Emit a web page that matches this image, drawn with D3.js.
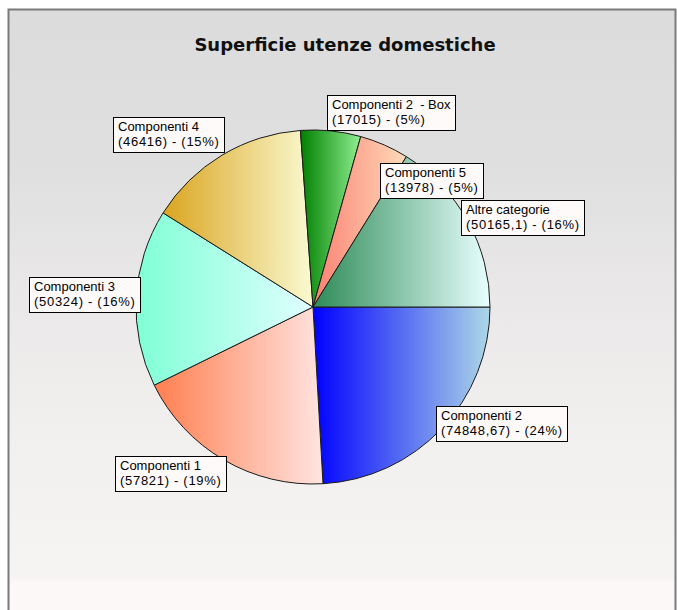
<!DOCTYPE html>
<html>
<head>
<meta charset="utf-8">
<script src="https://cdn.jsdelivr.net/npm/d3@7.9.0/dist/d3.min.js"></script>
<style>
  html, body { margin: 0; padding: 0; background: #fff; }
  svg { display: block; }
</style>
</head>
<body>
<div id="chart"></div>
<script>
// data
const categories = ['Componenti 2', 'Componenti 1', 'Componenti 3', 'Componenti 4',
    'Componenti 2  - Box', 'Componenti 5', 'Altre categorie'];
const values = [74848.67, 57821, 50324, 46416, 17015, 13978, 50165.1];
const valueLabels = ['74848,67', '57821', '50324', '46416', '17015', '13978', '50165,1'];

// gradient colours per slice (left -> right)
const colorsFrom = ['#0000ff', '#ff7f50', '#7fffd4', '#daa520', '#008000', '#fa8072', '#2e8b57'];
const colorsTo = ['#add8e6', '#ffe4e1', '#e0ffff', '#fafad2', '#90ee90', '#ffdab9', '#e8ffff'];

// vertical nudge of each label box
const labelDy = [-2, 17, -4, -24, -22, 32, -5];

const width = 677;
const height = 610;
const cx = 313, cy = 307, radius = 177;

const svg = d3.select('#chart')
    .append('svg')
    .attr('width', width)
    .attr('height', height);

const defs = svg.append('defs');

// background
const bg = defs.append('linearGradient')
    .attr('id', 'bg')
    .attr('x1', 0).attr('y1', 0).attr('x2', 0).attr('y2', 1);
[[0, '#dcdcdc'], [0.25, '#dfdfdf'], [0.45, '#e9e7e7'], [0.7, '#f2efef'],
 [0.93, '#f6f3f3'], [0.94, '#fcf8f8'], [1, '#fcf8f8']].forEach(([o, c]) => {
    bg.append('stop').attr('offset', o).attr('stop-color', c);
});

svg.append('rect')
    .attr('x', 8.5).attr('y', 9.5)
    .attr('width', 667).attr('height', 610)
    .attr('fill', 'url(#bg)')
    .attr('stroke', '#7a7a7a')
    .attr('stroke-width', 2);

// title
svg.append('text')
    .attr('x', 345)
    .attr('y', 51)
    .attr('text-anchor', 'middle')
    .style('font-family', '"DejaVu Sans", sans-serif')
    .style('font-weight', 'bold')
    .style('font-size', '18px')
    .style('fill', '#111')
    .text('Superficie utenze domestiche');

// slice gradients
values.forEach((v, i) => {
    const g = defs.append('linearGradient')
        .attr('id', 'slice' + i)
        .attr('x1', 0).attr('y1', 0).attr('x2', 1).attr('y2', 0);
    g.append('stop').attr('offset', 0).attr('stop-color', colorsFrom[i]);
    g.append('stop').attr('offset', 1).attr('stop-color', colorsTo[i]);
});

const pie = d3.pie()
    .sort(null)
    .startAngle(Math.PI / 2)
    .endAngle(Math.PI / 2 + 2 * Math.PI);

const arcs = pie(values);
const arc = d3.arc().innerRadius(0).outerRadius(radius);
const total = d3.sum(values);

const pieG = svg.append('g')
    .attr('transform', `translate(${cx},${cy})`);

pieG.selectAll('path')
    .data(arcs)
    .join('path')
    .attr('d', arc)
    .attr('fill', (d, i) => `url(#slice${i})`)
    .attr('stroke', '#1a1a1a')
    .attr('stroke-width', 1);

// labels
const labelR = radius - 4;
const labels = svg.append('g')
    .style('font-family', '"Liberation Sans", Arial, sans-serif')
    .style('font-size', '13px');

arcs.forEach((d, i) => {
    const mid = (d.startAngle + d.endAngle) / 2;
    const ax = cx + labelR * Math.sin(mid);
    const ay = cy - labelR * Math.cos(mid);
    const pct = Math.round(values[i] / total * 100);
    const lines = [categories[i], `(${valueLabels[i]}) - (${pct}%)`];

    const g = labels.append('g');
    const rect = g.append('rect')
        .attr('fill', '#fffafa')
        .attr('stroke', '#000')
        .attr('stroke-width', 1);
    const t = g.append('text')
        .style('fill', '#000')
        .attr('xml:space', 'preserve');
    lines.forEach((s, k) => {
        t.append('tspan')
            .attr('x', 5)
            .attr('y', 14 + k * 15)
            .style('letter-spacing', k === 1 ? '0.7px' : null)
            .text(s);
    });
    const tw = t.node().getBBox().width;
    const w = Math.round(tw + 9);
    const h = 35;
    const right = Math.sin(mid) >= 0;
    const left = right ? ax - 3 : ax - w;
    const top = ay - h / 2 + labelDy[i];
    rect.attr('x', 0.5).attr('y', 0.5).attr('width', w).attr('height', h);
    g.attr('transform', `translate(${Math.round(left)},${Math.round(top)})`);
});
</script>
</body>
</html>
